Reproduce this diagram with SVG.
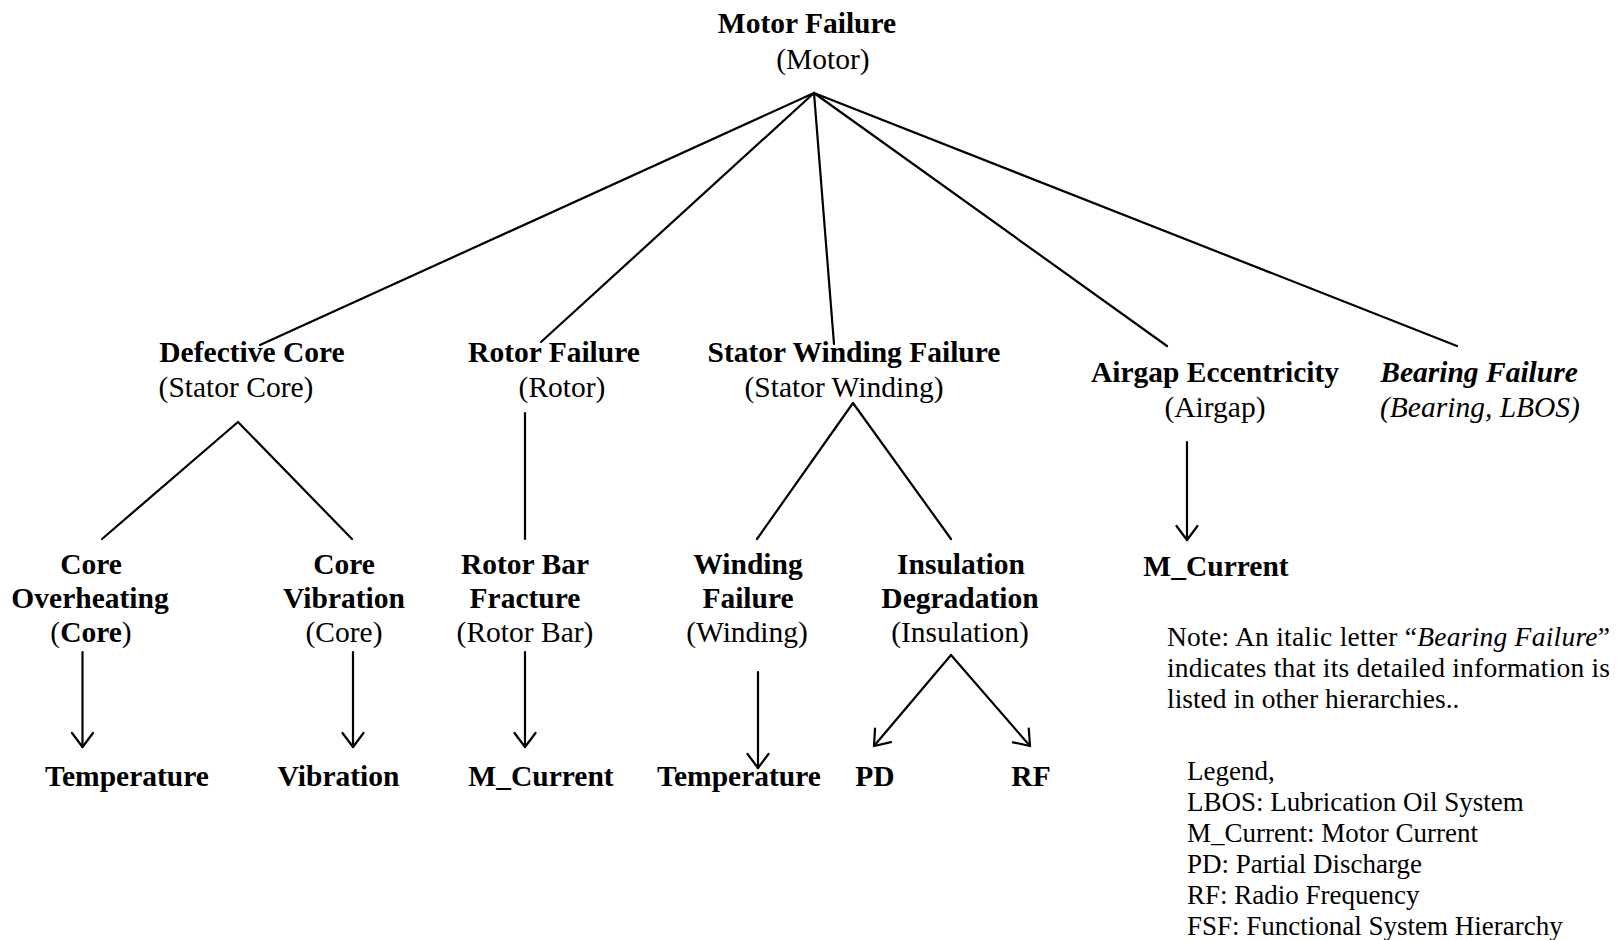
<svg xmlns="http://www.w3.org/2000/svg" width="1618" height="940" viewBox="0 0 1618 940">
  <style>
    text { font-family: "Liberation Serif", "Times New Roman", serif; fill: #000; }
    .n { font-size: 29.5px; text-anchor: middle; }
    .b { font-weight: bold; }
    .i { font-style: italic; }
    .note { font-size: 27.5px; }
    .leg { font-size: 27px; }
    .ln { stroke: #000; stroke-width: 2.2; fill: none; stroke-linecap: round; stroke-linejoin: round; }
    .ar { marker-end: url(#vhead); }
  </style>
  <defs>
    <marker id="vhead" markerUnits="userSpaceOnUse" markerWidth="30" markerHeight="30" refX="0" refY="0" orient="auto" overflow="visible">
      <path d="M-14,-10.5 L0,0 L-14,10.5" fill="none" stroke="#000" stroke-width="2.2" stroke-linecap="round" stroke-linejoin="round"/>
    </marker>
  </defs>
  <rect width="1618" height="940" fill="#fff"/>

  <!-- connectors -->
  <g id="connectors">
    <path class="ln" d="M814,93 L260,345 M814,93 L541,342 M814,93 L834,344 M814,93 L1167,346 M814,93 L1457,346"/>
    <path class="ln" d="M102,539 L238,422 L352,539"/>
    <path class="ln" d="M525,413 L525,539"/>
    <path class="ln" d="M757,539 L853,403 L951,539"/>
    <path class="ln ar" d="M82.5,652 L82.5,747"/>
    <path class="ln ar" d="M353,652 L353,747"/>
    <path class="ln ar" d="M525,652 L525,747"/>
    <path class="ln ar" d="M758,672 L758,768"/>
    <path class="ln ar" d="M951,655 L874,746"/>
    <path class="ln ar" d="M951,655 L1030,746"/>
    <path class="ln ar" d="M1187,442 L1187,540"/>
  </g>

  <!-- root -->
  <g id="motor">
    <text class="n b" x="807" y="33">Motor Failure</text>
    <text class="n" x="823" y="69">(Motor)</text>
  </g>

  <!-- second level -->
  <g id="defective-core">
    <text class="n b" x="252" y="362">Defective Core</text>
    <text class="n" x="236" y="397">(Stator Core)</text>
  </g>
  <g id="rotor-failure">
    <text class="n b" x="554" y="362">Rotor Failure</text>
    <text class="n" x="562" y="397">(Rotor)</text>
  </g>
  <g id="stator-winding-failure">
    <text class="n b" x="854" y="362">Stator Winding Failure</text>
    <text class="n" x="844" y="397">(Stator Winding)</text>
  </g>
  <g id="airgap-eccentricity">
    <text class="n b" x="1215" y="382">Airgap Eccentricity</text>
    <text class="n" x="1215" y="417">(Airgap)</text>
  </g>
  <g id="bearing-failure">
    <text class="n b i" x="1479" y="382">Bearing Failure</text>
    <text class="n i" x="1480" y="417">(Bearing, LBOS)</text>
  </g>

  <!-- third level -->
  <g id="core-overheating">
    <text class="n b" x="91" y="574">Core</text>
    <text class="n b" x="90" y="608">Overheating</text>
    <text class="n" x="91" y="642">(<tspan class="b">Core</tspan>)</text>
  </g>
  <g id="core-vibration">
    <text class="n b" x="344" y="574">Core</text>
    <text class="n b" x="344" y="608">Vibration</text>
    <text class="n" x="344" y="642">(Core)</text>
  </g>
  <g id="rotor-bar-fracture">
    <text class="n b" x="525" y="574">Rotor Bar</text>
    <text class="n b" x="525" y="608">Fracture</text>
    <text class="n" x="525" y="642">(Rotor Bar)</text>
  </g>
  <g id="winding-failure">
    <text class="n b" x="748" y="574">Winding</text>
    <text class="n b" x="748" y="608">Failure</text>
    <text class="n" x="747" y="642">(Winding)</text>
  </g>
  <g id="insulation-degradation">
    <text class="n b" x="961" y="574">Insulation</text>
    <text class="n b" x="960" y="608">Degradation</text>
    <text class="n" x="960" y="642">(Insulation)</text>
  </g>
  <g id="airgap-current">
    <text class="n b" x="1216" y="576">M_Current</text>
  </g>

  <!-- measurements -->
  <g id="temperature-core">
    <text class="n b" x="127" y="786">Temperature</text>
  </g>
  <g id="vibration">
    <text class="n b" x="338.5" y="786">Vibration</text>
  </g>
  <g id="rotor-current">
    <text class="n b" x="541" y="786">M_Current</text>
  </g>
  <g id="temperature-winding">
    <text class="n b" x="739" y="786">Temperature</text>
  </g>
  <g id="pd">
    <text class="n b" x="875" y="786">PD</text>
  </g>
  <g id="rf">
    <text class="n b" x="1031" y="786">RF</text>
  </g>

  <!-- note -->
  <g id="note">
    <text class="note" x="1167" y="646" textLength="443" lengthAdjust="spacing">Note: An italic letter “<tspan class="i">Bearing Failure</tspan>”</text>
    <text class="note" x="1167" y="677" textLength="443" lengthAdjust="spacing">indicates that its detailed information is</text>
    <text class="note" x="1167" y="708">listed in other hierarchies..</text>
  </g>

  <!-- legend -->
  <g id="legend">
    <text class="leg" x="1187" y="780">Legend,</text>
    <text class="leg" x="1187" y="811">LBOS: Lubrication Oil System</text>
    <text class="leg" x="1187" y="842">M_Current: Motor Current</text>
    <text class="leg" x="1187" y="873">PD: Partial Discharge</text>
    <text class="leg" x="1187" y="904">RF: Radio Frequency</text>
    <text class="leg" x="1187" y="935">FSF: Functional System Hierarchy</text>
  </g>
</svg>
